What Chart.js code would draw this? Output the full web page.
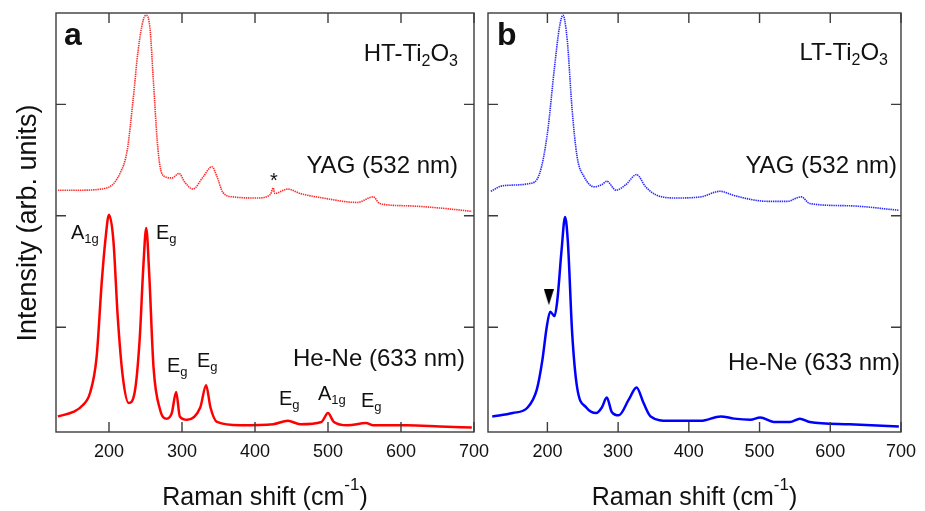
<!DOCTYPE html>
<html>
<head>
<meta charset="utf-8">
<script src="https://cdn.jsdelivr.net/npm/chart.js@4.4.1/dist/chart.umd.min.js"></script>
<style>
  html, body { margin: 0; padding: 0; background: #fff; }
  #wrap { position: relative; width: 925px; height: 511px; }
  #wrap canvas { position: absolute; left: 0; top: 0; }
</style>
</head>
<body>
<div id="wrap">
  <canvas id="panelA" width="925" height="511"></canvas>
  <canvas id="panelB" width="925" height="511"></canvas>
</div>
<script>
const ramanTicks = [200, 300, 400, 500, 600, 700];
const intensityTicks = [0.94, 1.94, 2.94];

// panel a: HT-Ti2O3
const htYagShift = [130, 160, 197, 215, 225, 233, 240, 247, 251, 256, 261, 266, 270, 277, 286, 296, 304, 315, 329, 341, 348, 356, 370, 403, 421, 425, 427, 445, 462, 493, 540, 562, 571, 608, 653, 697];
const htYagIntensity = [2.17, 2.17, 2.19, 2.32, 2.53, 2.98, 3.43, 3.70, 3.74, 3.63, 3.13, 2.62, 2.38, 2.29, 2.28, 2.32, 2.24, 2.18, 2.29, 2.38, 2.29, 2.15, 2.11, 2.10, 2.13, 2.19, 2.14, 2.18, 2.14, 2.10, 2.06, 2.11, 2.05, 2.03, 2.01, 1.98];
const htHeNeShift = [130, 151, 164, 174, 183, 190, 195, 200, 206, 212, 219, 227, 235, 242, 247, 251, 255, 261, 270, 279, 286, 292, 297, 307, 325, 333, 339, 348, 380, 425, 445, 462, 491, 500, 508, 527, 552, 562, 608, 653, 697];
const htHeNeIntensity = [0.14, 0.18, 0.24, 0.35, 0.67, 1.34, 1.72, 1.95, 1.72, 1.03, 0.49, 0.26, 0.35, 0.83, 1.48, 1.83, 1.43, 0.58, 0.20, 0.12, 0.17, 0.36, 0.14, 0.11, 0.22, 0.42, 0.22, 0.09, 0.06, 0.07, 0.10, 0.07, 0.09, 0.17, 0.09, 0.06, 0.08, 0.06, 0.06, 0.05, 0.04];

// panel b: LT-Ti2O3
const ltYagShift = [120, 137, 175, 189, 200, 210, 217, 222, 228, 235, 242, 252, 266, 277, 284, 297, 311, 326, 339, 353, 381, 417, 444, 465, 511, 539, 559, 571, 627, 697];
const ltYagIntensity = [2.16, 2.21, 2.23, 2.32, 2.68, 3.27, 3.63, 3.74, 3.52, 2.89, 2.47, 2.29, 2.20, 2.22, 2.25, 2.17, 2.22, 2.31, 2.20, 2.13, 2.10, 2.11, 2.16, 2.12, 2.07, 2.07, 2.11, 2.05, 2.03, 1.99];
const ltHeNeShift = [122, 151, 172, 185, 193, 199, 204, 210, 214, 220, 225, 229, 235, 242, 255, 269, 277, 284, 291, 301, 315, 326, 336, 346, 371, 417, 445, 464, 487, 501, 520, 543, 557, 571, 627, 697];
const ltHeNeIntensity = [0.14, 0.17, 0.22, 0.38, 0.65, 0.94, 1.08, 1.04, 1.18, 1.63, 1.93, 1.70, 0.89, 0.40, 0.22, 0.17, 0.22, 0.31, 0.18, 0.15, 0.29, 0.40, 0.26, 0.14, 0.10, 0.10, 0.14, 0.12, 0.11, 0.13, 0.09, 0.09, 0.12, 0.09, 0.07, 0.05];

// shoulder marked by the arrow in panel b
const shoulderShift = [202];
const shoulderIntensity = [1.21];

const FONT = '"Liberation Sans", Arial, Helvetica, sans-serif';
const INK = '#111';

function toPoints(xs, ys) {
  return xs.map((x, i) => ({ x: x, y: ys[i] }));
}

// text with sub/superscripts, drawn left to right
function drawRich(ctx, parts, x, y, align, size, weight) {
  const small = Math.round(size * 0.66);
  const fontFor = kind => (weight || 'normal') + ' ' + (kind ? small : size) + 'px ' + FONT;
  let width = 0;
  parts.forEach(([t, kind]) => {
    ctx.font = fontFor(kind);
    width += ctx.measureText(t).width;
  });
  let cx = align === 'right' ? x - width : align === 'center' ? x - width / 2 : x;
  ctx.textAlign = 'left';
  parts.forEach(([t, kind]) => {
    ctx.font = fontFor(kind);
    const dy = kind === 'sub' ? size * 0.22 : kind === 'sup' ? -size * 0.62 : 0;
    ctx.fillText(t, cx, y + dy);
    cx += ctx.measureText(t).width;
  });
}

const panelDecor = {
  id: 'panelDecor',
  afterDatasetsDraw(chart, args, opts) {
    const { ctx, chartArea: area, scales } = chart;
    ctx.save();

    // frame with inward ticks
    ctx.strokeStyle = '#3c3c3c';
    ctx.lineWidth = 1.4;
    ctx.strokeRect(area.left, area.top, area.right - area.left, area.bottom - area.top);
    ctx.beginPath();
    ramanTicks.forEach(v => {
      const px = scales.x.getPixelForValue(v);
      ctx.moveTo(px, area.bottom);
      ctx.lineTo(px, area.bottom - 10);
      ctx.moveTo(px, area.top);
      ctx.lineTo(px, area.top + 10);
    });
    intensityTicks.forEach(v => {
      const py = scales.y.getPixelForValue(v);
      ctx.moveTo(area.left, py);
      ctx.lineTo(area.left + 10, py);
      ctx.moveTo(area.right, py);
      ctx.lineTo(area.right - 10, py);
    });
    ctx.stroke();

    ctx.fillStyle = INK;
    ctx.textBaseline = 'alphabetic';
    opts.labels.forEach(l => drawRich(ctx, l.parts, l.x, l.y, l.align || 'left', l.size, l.weight));

    drawRich(ctx, [['Raman shift (cm'], ['-1', 'sup'], [')']], (area.left + area.right) / 2, 505, 'center', 25);

    if (opts.yTitle) {
      ctx.translate(36, 223);
      ctx.rotate(-Math.PI / 2);
      ctx.font = '27px ' + FONT;
      ctx.textAlign = 'center';
      ctx.fillText(opts.yTitle, 0, 0);
    }
    ctx.restore();
  }
};

// downward arrow head used as point style
const arrowHead = document.createElement('canvas');
arrowHead.width = 10;
arrowHead.height = 16;
const ah = arrowHead.getContext('2d');
ah.fillStyle = '#000';
ah.beginPath();
ah.moveTo(0, 0);
ah.lineTo(10, 0);
ah.lineTo(5, 16);
ah.closePath();
ah.fill();

function makePanel(id, xMin, padding, datasets, decor) {
  return new Chart(document.getElementById(id), {
    type: 'line',
    data: { datasets: datasets },
    options: {
      responsive: false,
      animation: false,
      devicePixelRatio: 1,
      layout: { padding: padding },
      plugins: {
        legend: { display: false },
        tooltip: { enabled: false },
        panelDecor: decor
      },
      scales: {
        x: {
          type: 'linear',
          min: xMin,
          max: 700,
          afterBuildTicks: s => { s.ticks = ramanTicks.map(v => ({ value: v })); },
          afterFit: s => { s.height = 79; },
          grid: { display: false, drawTicks: false },
          border: { display: false },
          ticks: {
            autoSkip: false,
            maxRotation: 0,
            padding: 9,
            color: INK,
            font: { family: FONT, size: 18 }
          }
        },
        y: {
          min: 0,
          max: 3.76,
          afterBuildTicks: s => { s.ticks = intensityTicks.map(v => ({ value: v })); },
          afterFit: s => { s.width = 0; },
          grid: { display: false },
          border: { display: false },
          ticks: { display: false }
        }
      }
    },
    plugins: [panelDecor]
  });
}

const solid = color => ({ borderColor: color, borderWidth: 2.5, pointRadius: 0, cubicInterpolationMode: 'monotone' });
const dotted = color => ({ borderColor: color, borderWidth: 1.6, borderDash: [1.4, 0.8], pointRadius: 0, cubicInterpolationMode: 'monotone' });

makePanel('panelA', 127.4, { left: 56, right: 451, top: 13, bottom: 0 }, [
  Object.assign({ data: toPoints(htHeNeShift, htHeNeIntensity) }, solid('#ff0000')),
  Object.assign({ data: toPoints(htYagShift, htYagIntensity) }, dotted('#ff2a2a'))
], {
  yTitle: 'Intensity (arb. units)',
  labels: [
    { parts: [['a']], x: 64, y: 45, size: 32, weight: 'bold' },
    { parts: [['HT-Ti'], ['2', 'sub'], ['O'], ['3', 'sub']], x: 458, y: 61, align: 'right', size: 24 },
    { parts: [['YAG (532 nm)']], x: 458, y: 173, align: 'right', size: 24 },
    { parts: [['He-Ne (633 nm)']], x: 465, y: 366, align: 'right', size: 24 },
    { parts: [['*']], x: 274, y: 187, align: 'center', size: 20 },
    { parts: [['A'], ['1g', 'sub']], x: 71, y: 239, size: 20 },
    { parts: [['E'], ['g', 'sub']], x: 156, y: 239, size: 20 },
    { parts: [['E'], ['g', 'sub']], x: 167, y: 372, size: 20 },
    { parts: [['E'], ['g', 'sub']], x: 197, y: 367, size: 20 },
    { parts: [['E'], ['g', 'sub']], x: 279, y: 405, size: 20 },
    { parts: [['A'], ['1g', 'sub']], x: 318, y: 400, size: 20 },
    { parts: [['E'], ['g', 'sub']], x: 361, y: 407, size: 20 }
  ]
});

makePanel('panelB', 116, { left: 488, right: 20, top: 13, bottom: 0 }, [
  Object.assign({ data: toPoints(ltHeNeShift, ltHeNeIntensity) }, solid('#0000ff')),
  Object.assign({ data: toPoints(ltYagShift, ltYagIntensity) }, dotted('#2a2aff')),
  {
    type: 'scatter',
    data: toPoints(shoulderShift, shoulderIntensity),
    pointStyle: arrowHead,
    pointRadius: 8,
    showLine: false
  }
], {
  labels: [
    { parts: [['b']], x: 497, y: 45, size: 32, weight: 'bold' },
    { parts: [['LT-Ti'], ['2', 'sub'], ['O'], ['3', 'sub']], x: 888, y: 60, align: 'right', size: 24 },
    { parts: [['YAG (532 nm)']], x: 897, y: 173, align: 'right', size: 24 },
    { parts: [['He-Ne (633 nm)']], x: 900, y: 370, align: 'right', size: 24 }
  ]
});
</script>
</body>
</html>
